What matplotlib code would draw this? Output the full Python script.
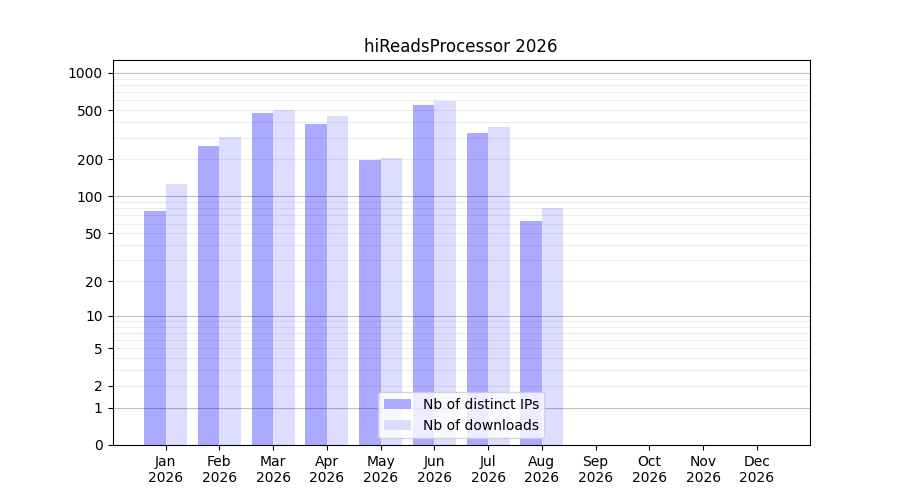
import numpy as np
import matplotlib
matplotlib.use("Agg")
import matplotlib.pyplot as plt

months = ["Jan", "Feb", "Mar", "Apr", "May", "Jun",
          "Jul", "Aug", "Sep", "Oct", "Nov", "Dec"]
year = 2026
nb_ips = [76, 257, 476, 387, 198, 551, 327, 63, 0, 0, 0, 0]
nb_downloads = [126, 304, 503, 450, 206, 594, 366, 80, 0, 0, 0, 0]
ytick_values = [0, 1, 2, 5, 10, 20, 50, 100, 200, 500, 1000]


def fwd(v):
    return np.log10(1 + np.clip(v, 0, None))


def inv(v):
    return 10 ** v - 1


fig, ax = plt.subplots(figsize=(9, 5), dpi=100)
x = np.arange(1, len(months) + 1)
w = 0.4

ax.bar(x - w / 2, nb_ips, width=w, color="#aaaaff", label="Nb of distinct IPs", zorder=1)
ax.bar(x + w / 2, nb_downloads, width=w, color="#ddddff", label="Nb of downloads", zorder=1)

ax.set_yscale("function", functions=(fwd, inv))
ax.set_ylim(0, 1270)

# grid lines: darker on decades, light in between
for dec in [1, 10, 100]:
    for k in range(2, 10):
        ax.axhline(k * dec, color="black", lw=0.8, alpha=0.07, zorder=2)
for v in [1, 10, 100, 1000]:
    ax.axhline(v, color="black", lw=0.8, alpha=0.25, zorder=2)

ax.set_yticks(ytick_values)
ax.set_yticklabels([str(v) for v in ytick_values])
ax.yaxis.set_minor_locator(matplotlib.ticker.NullLocator())

ax.set_xticks(x)
ax.set_xticklabels([f"{m}\n{year}" for m in months])

ax.set_title(f"hiReadsProcessor {year}")
ax.legend(loc="lower center")

fig.savefig("out.png")
